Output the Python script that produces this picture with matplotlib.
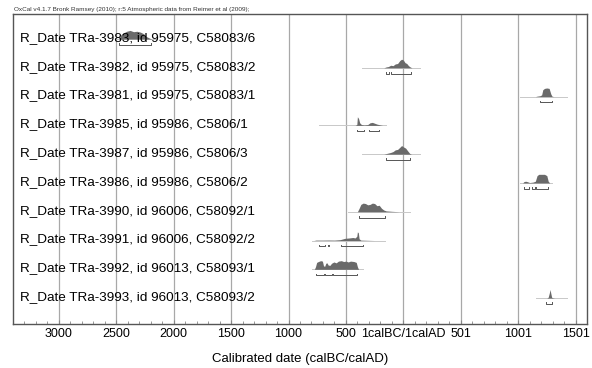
import matplotlib
matplotlib.use("Agg")
import matplotlib.pyplot as plt
from matplotlib.ticker import MultipleLocator

plt.rcParams["font.family"] = ["Liberation Sans", "DejaVu Sans"]

# Echantillons (du haut vers le bas)
labels = [
    "R_Date TRa-3983, id 95975, C58083/6",
    "R_Date TRa-3982, id 95975, C58083/2",
    "R_Date TRa-3981, id 95975, C58083/1",
    "R_Date TRa-3985, id 95986, C5806/1",
    "R_Date TRa-3987, id 95986, C5806/3",
    "R_Date TRa-3986, id 95986, C5806/2",
    "R_Date TRa-3990, id 96006, C58092/1",
    "R_Date TRa-3991, id 96006, C58092/2",
    "R_Date TRa-3992, id 96013, C58093/1",
    "R_Date TRa-3993, id 96013, C58093/2",
]

# Etendue de la ligne de base (annees, BC negatif)
base_ranges = [
    (-2500, -2150), (-360, 145), (1016, 1426), (-735, -151), (-360, 145),
    (1016, 1295), (-482, 58), (-795, -160), (-795, -350), (1156, 1426),
]

# Densites de probabilite (annees, hauteur relative)
dist_years = [
    [-2480, -2460, -2440, -2410, -2380, -2350, -2320, -2290, -2260, -2240, -2210, -2190],
    [-170, -150, -130, -110, -90, -70, -50, -30, -15, 0, 15, 30, 45, 60, 75],
    [1150, 1165, 1190, 1205, 1215, 1230, 1250, 1270, 1285, 1295, 1310],
    [-420, -405, -400, -390, -380, -365, -340, -310, -290, -270, -250, -230, -200, -180],
    [-170, -140, -110, -90, -70, -50, -30, -15, 0, 20, 40, 55, 70],
    [1040, 1050, 1065, 1080, 1100, 1130, 1150, 1165, 1180, 1230, 1250, 1262, 1275],
    [-400, -385, -370, -350, -330, -310, -290, -270, -250, -230, -210, -190, -170, -150, -100, -60, -40],
    [-780, -760, -700, -650, -600, -550, -510, -470, -440, -420, -405, -400, -392, -385, -370, -300, -250],
    [-775, -765, -755, -740, -720, -705, -695, -685, -675, -665, -655, -640, -625, -605, -585,
     -565, -540, -520, -500, -480, -460, -430, -410, -400, -390],
    [1250, 1262, 1272, 1278, 1284, 1292, 1305, 1320],
]
dist_heights = [
    [0, 0.5, 0.7, 0.9, 1.0, 0.85, 0.9, 0.8, 0.6, 0.3, 0.1, 0],
    [0, 0.1, 0.15, 0.3, 0.25, 0.45, 0.5, 0.85, 1.0, 0.9, 0.6, 0.5, 0.25, 0.1, 0],
    [0, 0.05, 0.1, 0.2, 0.8, 0.95, 1.0, 0.95, 0.3, 0.05, 0],
    [0, 0.1, 1.0, 0.8, 0.3, 0.1, 0.05, 0.1, 0.3, 0.35, 0.25, 0.15, 0.05, 0],
    [0, 0.1, 0.2, 0.3, 0.5, 0.55, 0.8, 1.0, 0.85, 0.7, 0.35, 0.1, 0],
    [0, 0.15, 0.2, 0.15, 0.05, 0.1, 0.2, 0.85, 1.0, 1.0, 0.85, 0.2, 0],
    [0, 0.4, 0.85, 1.0, 0.95, 0.8, 0.85, 1.0, 0.95, 0.7, 0.75, 0.4, 0.2, 0.1, 0.05, 0.02, 0],
    [0, 0.05, 0.05, 0.06, 0.05, 0.1, 0.25, 0.3, 0.35, 0.3, 0.5, 1.0, 0.9, 0.2, 0.05, 0.02, 0],
    [0, 0.3, 0.8, 0.9, 1.0, 0.95, 0.4, 0.35, 0.7, 0.75, 0.5, 0.45, 0.7, 0.85, 0.75,
     0.95, 1.0, 0.9, 0.95, 0.85, 0.95, 0.9, 0.8, 0.3, 0],
    [0, 0.1, 0.6, 1.0, 0.6, 0.1, 0.03, 0],
]

# Intervalles 95.4% (crochets sous chaque distribution)
ranges_95 = [
    [(-2480, -2200)],
    [(-150, -125), (-105, 65)],
    [(1190, 1295)],
    [(-405, -345), (-295, -215)],
    [(-150, 60)],
    [(1050, 1095), (1125, 1145), (1160, 1260)],
    [(-390, -160)],
    [(-735, -685), (-655, -645), (-545, -355)],
    [(-760, -690), (-680, -620), (-610, -400)],
    [(1240, 1295)],
]

tick_pos = [-3000, -2500, -2000, -1500, -1000, -500, 1, 501, 1001, 1501]
tick_labels = ["3000", "2500", "2000", "1500", "1000", "500", "1calBC/1calAD", "501", "1001", "1501"]

fig = plt.figure(figsize=(5.92, 3.68), dpi=100)
ax = fig.add_axes([13 / 592, 44 / 368, 574 / 592, 310 / 368])

peak = 0.3
for i in range(len(labels)):
    y = -i
    ax.plot(base_ranges[i], [y, y], color="#c8c8c8", lw=0.7, zorder=2)
    ax.fill_between(dist_years[i], y, [y + peak * h for h in dist_heights[i]],
                    color="#6a6a6a", lw=0, zorder=3)
    yb = y - 0.2
    for a, b in ranges_95[i]:
        ax.plot([a, a, b, b], [yb + 0.05, yb, yb, yb + 0.05], color="#555555", lw=0.7, zorder=3)
    ax.text(-3335, y + 0.04, labels[i], fontsize=9.7, va="center", ha="left", zorder=4)

for t in tick_pos:
    ax.axvline(t, color="#a8a8a8", lw=0.9, zorder=1)

ax.set_xlim(-3400, 1600)
ax.set_ylim(-9.9, 0.87)
ax.set_yticks([])
ax.set_xticks(tick_pos)
ax.set_xticklabels(tick_labels, fontsize=9)
ax.xaxis.set_minor_locator(MultipleLocator(100))
ax.tick_params(axis="x", which="major", direction="in", length=3, color="#888888", pad=3)
ax.tick_params(axis="x", which="minor", direction="in", length=2, color="#888888")
for s in ax.spines.values():
    s.set_color("#555555")
    s.set_linewidth(1.0)
ax.set_xlabel("Calibrated date (calBC/calAD)", fontsize=9.5, labelpad=9)

fig.text(14 / 592, 1 - 9 / 368,
         "OxCal v4.1.7 Bronk Ramsey (2010); r:5 Atmospheric data from Reimer et al (2009);",
         fontsize=4.6, va="center", ha="left", color="#333333")

plt.savefig("out.png", dpi=100)
